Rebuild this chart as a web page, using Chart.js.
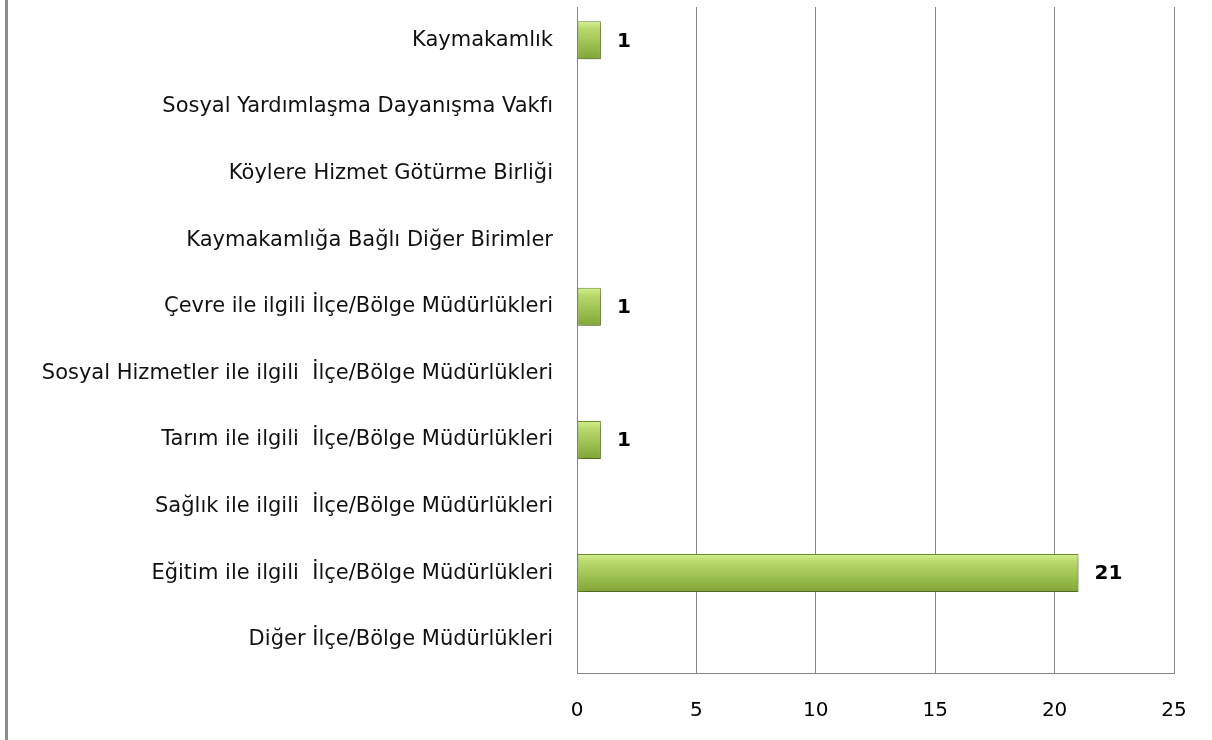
<!DOCTYPE html>
<html>
<head>
<meta charset="utf-8">
<script src="https://cdn.jsdelivr.net/npm/chart.js@4/dist/chart.umd.min.js"></script>
<style>
  html, body { margin: 0; padding: 0; background: #fff; }
  #wrap { width: 1212px; height: 740px; position: relative; }
</style>
</head>
<body>
<div id="wrap"><canvas id="graph"></canvas></div>
<script>
// kategoriler (yukaridan asagiya)
const birimler = [
  'Kaymakamlık',
  'Sosyal Yardımlaşma Dayanışma Vakfı',
  'Köylere Hizmet Götürme Birliği',
  'Kaymakamlığa Bağlı Diğer Birimler',
  'Çevre ile ilgili İlçe/Bölge Müdürlükleri',
  'Sosyal Hizmetler ile ilgili  İlçe/Bölge Müdürlükleri',
  'Tarım ile ilgili  İlçe/Bölge Müdürlükleri',
  'Sağlık ile ilgili  İlçe/Bölge Müdürlükleri',
  'Eğitim ile ilgili  İlçe/Bölge Müdürlükleri',
  'Diğer İlçe/Bölge Müdürlükleri'
];
const sayilar = [1, 0, 0, 0, 1, 0, 1, 0, 21, 0];
const xTicks = [0, 5, 10, 15, 20, 25];

const FONT = '"DejaVu Sans", "Open Sans", sans-serif';

// bar icin dikey yesil gradyan
function yesilGradyan(context) {
  const chart = context.chart;
  const ctx = chart.ctx;
  const y = chart.scales && chart.scales.y;
  if (!y || !chart.chartArea) return '#9bbb59';
  const mid = y.getPixelForValue(context.dataIndex);
  const g = ctx.createLinearGradient(0, mid - 19, 0, mid + 19);
  g.addColorStop(0, '#d6f090');
  g.addColorStop(0.2, '#b8d96c');
  g.addColorStop(0.6, '#9dc150');
  g.addColorStop(1, '#80a537');
  return g;
}

// sol cerceve cizgisi
const cerceve = {
  id: 'cerceve',
  beforeDraw(chart) {
    const ctx = chart.ctx;
    ctx.save();
    ctx.fillStyle = '#8c8c8c';
    ctx.fillRect(5, 0, 3, chart.height);
    ctx.restore();
  }
};

// golge
const golge = {
  id: 'golge',
  beforeDatasetsDraw(chart) {
    const ctx = chart.ctx;
    ctx.save();
    ctx.shadowColor = 'rgba(0,0,0,0.3)';
    ctx.shadowBlur = 6;
    ctx.shadowOffsetX = 2;
    ctx.shadowOffsetY = 4;
  },
  afterDatasetsDraw(chart) {
    chart.ctx.restore();
  }
};

// deger etiketleri
const etiketler = {
  id: 'etiketler',
  afterDatasetsDraw(chart) {
    const ctx = chart.ctx;
    const meta = chart.getDatasetMeta(0);
    ctx.save();
    ctx.font = 'bold 20px ' + FONT;
    ctx.fillStyle = '#000';
    ctx.textBaseline = 'middle';
    ctx.textAlign = 'left';
    meta.data.forEach((bar, i) => {
      if (sayilar[i] === 0) return;
      ctx.fillText(String(sayilar[i]), bar.x + 16, bar.y + 1);
    });
    ctx.restore();
  }
};

const graph = document.getElementById('graph');

new Chart(graph, {
  type: 'bar',
  data: {
    labels: birimler,
    datasets: [{
      data: sayilar,
      backgroundColor: yesilGradyan,
      borderColor: '#6d8c2c',
      borderWidth: 1,
      borderSkipped: false,
      barPercentage: 0.57,
      categoryPercentage: 1
    }]
  },
  options: {
    indexAxis: 'y',
    responsive: true,
    maintainAspectRatio: false,
    animation: false,
    layout: { padding: { top: 7, right: 38, left: 0, bottom: 0 } },
    plugins: {
      legend: { display: false },
      tooltip: { enabled: false }
    },
    scales: {
      x: {
        min: 0,
        max: 25,
        afterBuildTicks: s => { s.ticks = xTicks.map(v => ({ value: v })); },
        afterFit: s => { s.height = 67; s.paddingLeft = 0; s.paddingRight = 0; },
        grid: { color: '#868686', lineWidth: 1, drawTicks: false },
        border: { color: '#868686', width: 1 },
        ticks: {
          color: '#000',
          padding: 26,
          font: { family: FONT, size: 20 }
        }
      },
      y: {
        afterFit: s => { s.width = 577; s.paddingTop = 0; s.paddingBottom = 0; },
        grid: { display: false, drawTicks: false },
        border: { color: '#868686', width: 1 },
        ticks: {
          color: '#111',
          padding: 24,
          autoSkip: false,
          font: { family: FONT, size: 21 }
        }
      }
    }
  },
  plugins: [cerceve, golge, etiketler]
});
</script>
</body>
</html>
